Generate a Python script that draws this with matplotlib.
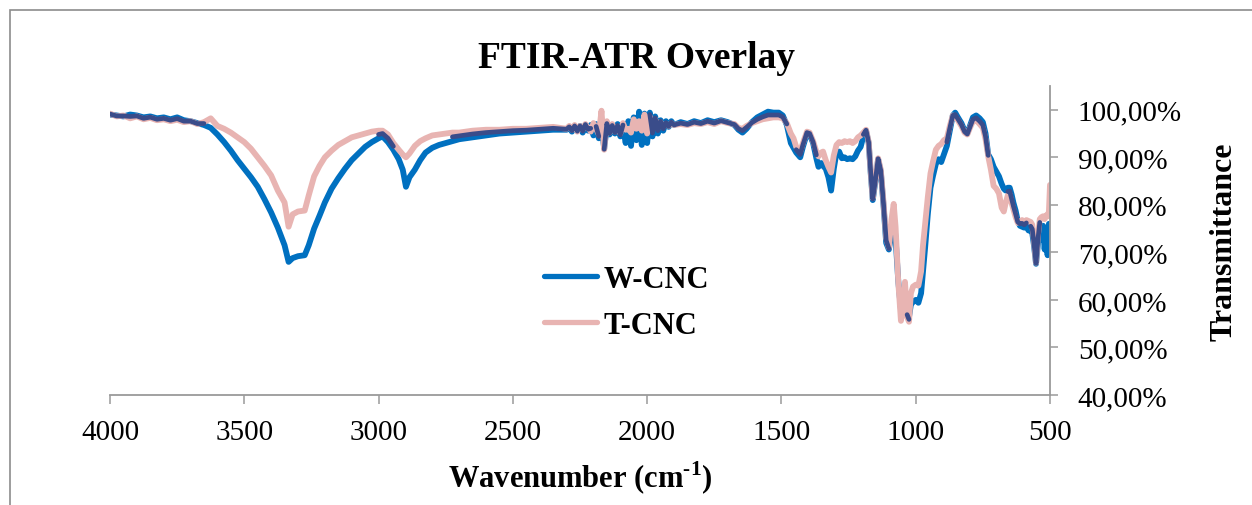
"""FTIR-ATR overlay of W-CNC and T-CNC spectra (transmittance vs wavenumber)."""

import numpy as np
import matplotlib
matplotlib.use("Agg")
import matplotlib.pyplot as plt
from matplotlib.patches import Rectangle
from matplotlib.ticker import FuncFormatter

# values (shared wavenumber grid)
wavenumber = [
    4000, 3975, 3950, 3925, 3900, 3875, 3850, 3825, 3800, 3775, 3750, 3725,
    3700, 3675, 3650, 3625, 3600, 3575, 3550, 3525, 3500, 3475, 3450, 3425,
    3400, 3375, 3350, 3335, 3320, 3300, 3275, 3260, 3240, 3220, 3200, 3175,
    3150, 3125, 3100, 3075, 3050, 3025, 3000, 2985, 2965, 2945, 2925, 2910,
    2898, 2885, 2865, 2845, 2825, 2800, 2775, 2750, 2725, 2700, 2650, 2600,
    2550, 2500, 2450, 2400, 2350,
    2300, 2290, 2280, 2270, 2260, 2250, 2240, 2230, 2220, 2210, 2200, 2190,
    2180, 2170, 2160, 2150, 2140, 2130, 2120, 2110, 2100, 2090, 2080, 2070,
    2060, 2050, 2040, 2030, 2020, 2010, 2000, 1990, 1980, 1970, 1960, 1950,
    1940, 1930, 1920, 1910, 1900,
    1875, 1850, 1825, 1800, 1775, 1750, 1725, 1700, 1675, 1660, 1645, 1630,
    1610, 1590, 1570, 1550, 1530, 1510, 1495, 1480, 1465, 1455, 1445, 1430,
    1420, 1405, 1395, 1382, 1370, 1362, 1352, 1345, 1335, 1325, 1315, 1305,
    1295, 1285, 1275, 1265, 1255, 1245, 1235, 1225, 1215, 1205, 1195, 1185,
    1175, 1168, 1160, 1150, 1140, 1130, 1120, 1110, 1100, 1090, 1082, 1075,
    1065, 1055, 1048, 1040, 1032, 1025, 1018, 1010, 1000, 990, 980, 973,
    965, 955, 945, 936, 925, 915, 905, 895, 884, 873, 862, 853,
    843, 830, 818, 808, 798, 787, 775, 762, 750, 740, 730, 720,
    710, 700, 690, 680, 672, 665, 657, 650, 643, 636, 628, 620,
    612, 604, 596, 588, 580, 572, 566, 560, 552, 545, 538, 532,
    526, 520, 514, 509, 504, 500,
]

w_cnc = [
    99.0, 98.8, 98.6, 99.0, 98.8, 98.4, 98.6, 98.2, 98.4, 98.0, 98.4, 97.8,
    97.6, 97.2, 96.8, 96.2, 94.8, 93.2, 91.4, 89.4, 87.6, 85.8, 83.8, 81.2,
    78.4, 75.2, 71.5, 68.0, 68.8, 69.2, 69.4, 71.5, 75.0, 77.7, 80.5, 83.4,
    85.6, 87.6, 89.4, 90.8, 92.2, 93.2, 94.0, 94.4, 93.2, 91.6, 89.6, 87.4,
    83.8, 85.8, 87.4, 89.4, 91.0, 92.0, 92.6, 93.0, 93.4, 93.8, 94.2, 94.6,
    95.0, 95.2, 95.4, 95.6, 95.8,
    95.8, 96.2, 95.4, 96.4, 95.6, 96.6, 95.2, 96.8, 95.6, 96.8, 94.6, 97.0,
    94.0, 97.2, 91.8, 96.6, 94.8, 96.4, 95.0, 97.0, 94.4, 96.4, 93.0, 97.6,
    92.4, 98.4, 93.6, 99.6, 92.6, 99.2, 93.0, 99.4, 94.4, 98.6, 95.0, 97.8,
    95.6, 97.6, 96.4, 97.6, 96.8,
    97.4, 97.0, 97.6, 97.2, 97.8, 97.4, 97.8, 97.4, 96.8, 95.8, 95.2, 96.0,
    97.4, 98.4, 99.0, 99.6, 99.4, 99.4, 98.8, 96.8, 93.0, 92.0, 91.0, 90.0,
    92.2, 95.0, 94.8, 93.0, 89.8, 88.0, 88.8, 88.2, 87.6, 85.8, 83.0, 87.6,
    91.0, 91.2, 89.8, 90.0, 89.6, 89.8, 89.6, 90.2, 91.4, 92.2, 94.4, 95.6,
    93.0, 87.0, 81.0, 85.0, 89.6, 87.0, 80.0, 72.0, 70.6, 74.0, 77.0, 73.0,
    64.0, 58.0, 58.6, 60.8, 57.4, 56.4, 59.0, 59.6, 60.0, 59.4, 61.4, 65.9,
    71.0, 78.0, 83.6, 86.0, 88.6, 89.6, 89.0, 90.6, 92.4, 95.6, 98.8, 99.4,
    98.4, 97.2, 95.6, 95.0, 96.6, 98.4, 98.8, 98.2, 97.4, 95.0, 90.6, 89.6,
    88.0, 87.0, 86.0, 84.4, 83.4, 83.0, 83.6, 83.6, 82.2, 80.4, 78.8, 76.6,
    75.6, 75.4, 75.2, 75.6, 74.6, 74.6, 74.0, 71.6, 67.6, 71.8, 75.6, 72.6,
    75.6, 70.6, 75.2, 69.4, 76.0, 74.8,
]

t_cnc = [
    99.2, 98.6, 98.8, 98.2, 98.6, 98.0, 98.3, 97.8, 98.0, 97.6, 97.9, 97.4,
    97.6, 97.0, 97.4, 98.2, 96.6, 96.0, 95.2, 94.2, 93.2, 91.8, 90.0, 88.2,
    86.2, 83.0, 80.5, 75.4, 78.0, 78.6, 78.8, 82.0, 86.0, 88.2, 90.0, 91.4,
    92.6, 93.4, 94.2, 94.6, 95.0, 95.4, 95.6, 95.6, 94.8, 93.0, 91.6, 90.6,
    90.0, 90.8, 92.4, 93.4, 94.0, 94.6, 94.8, 95.0, 95.2, 95.2, 95.6, 95.8,
    95.8, 96.0, 96.0, 96.2, 96.4,
    96.0, 96.6, 95.8, 96.8, 95.4, 96.6, 95.8, 97.0, 96.2, 95.4, 97.2, 96.0,
    94.8, 99.8, 91.6, 97.6, 95.2, 97.0, 95.4, 96.4, 95.0, 97.2, 95.8, 96.0,
    95.2, 98.0, 96.0, 97.6, 95.6, 99.0, 95.0, 98.6, 95.8, 98.0, 96.2, 97.4,
    96.4, 97.0, 96.6, 97.2, 96.8,
    97.0, 96.8, 97.2, 97.0, 97.4, 97.0, 97.6, 97.2, 97.0, 96.2, 96.0, 96.6,
    97.2, 97.6, 98.0, 98.2, 98.4, 98.4, 98.2, 97.2, 95.0, 94.0, 92.2, 91.2,
    93.0, 95.4, 95.2, 93.4, 91.2, 90.2, 91.0, 91.2, 89.4, 88.0, 86.8, 90.4,
    92.6, 93.2, 93.0, 93.4, 93.2, 93.4, 93.0, 93.4, 94.2, 94.6, 95.2, 95.8,
    93.2, 87.4, 81.4, 85.4, 89.8, 87.4, 80.6, 73.0, 71.0, 77.0, 80.2, 75.4,
    63.8, 55.6, 58.0, 63.8, 56.4, 55.4, 61.4, 62.8, 63.2, 63.0, 66.0, 71.4,
    76.0, 81.6, 86.6, 89.0, 91.6, 92.4, 92.8, 93.6, 94.0, 96.6, 98.8, 98.6,
    97.8, 96.6, 95.2, 94.8, 96.2, 97.6, 97.8, 97.0, 96.2, 93.8, 90.2, 87.4,
    84.0, 83.4, 82.4, 79.4, 78.6, 80.4, 82.0, 82.2, 80.4, 79.0, 77.4, 76.2,
    76.4, 76.8, 76.4, 76.8, 76.6, 76.4, 75.8, 72.6, 67.8, 73.6, 77.0, 77.4,
    77.6, 77.0, 77.8, 77.6, 78.6, 84.2,
]

series_names = ["W-CNC", "T-CNC"]
y_ticks = [40, 50, 60, 70, 80, 90, 100]
x_ticks = [4000, 3500, 3000, 2500, 2000, 1500, 1000, 500]

BLUE = "#0070C0"
PINK = "#E8B4B2"
NAVY = "#3A4C8A"
AXIS_GRAY = "#9A9A9A"

plt.rcParams["font.family"] = ["Liberation Serif", "DejaVu Serif"]
plt.rcParams["mathtext.fontset"] = "custom"
plt.rcParams["mathtext.rm"] = "Liberation Serif"
plt.rcParams["mathtext.bf"] = "Liberation Serif:bold"

wn = np.array(wavenumber, dtype=float)
w = np.array(w_cnc, dtype=float)
t = np.array(t_cnc, dtype=float)
# where the two traces sit on top of each other the overlay looks dark navy
overlap = np.where(np.abs(w - t) < 2.0, (w + t) / 2, np.nan)

fig = plt.figure(figsize=(12.52, 5.06), dpi=100)
ax = fig.add_axes([110 / 1252, 1 - 396 / 506, 940 / 1252, (396 - 87) / 506])

line_kw = dict(solid_joinstyle="round", solid_capstyle="round")
ax.plot(wn, w, color=BLUE, linewidth=4.2, label=series_names[0], **line_kw)
ax.plot(wn, t, color=PINK, linewidth=4.2, label=series_names[1], **line_kw)
ax.plot(wn, overlap, color=NAVY, linewidth=3.4, **line_kw)

ax.set_xlim(4000, 500)
ax.set_ylim(40, 105)
ax.set_xticks(x_ticks)
ax.set_yticks(y_ticks)
ax.yaxis.set_major_formatter(FuncFormatter(lambda v, _: f"{v:.2f}%".replace(".", ",")))
ax.yaxis.tick_right()
ax.yaxis.set_label_position("right")

for side in ("left", "top"):
    ax.spines[side].set_visible(False)
for side in ("right", "bottom"):
    ax.spines[side].set_color(AXIS_GRAY)
    ax.spines[side].set_linewidth(1.3)

ax.tick_params(axis="x", direction="out", length=6.5, width=1.1, color=AXIS_GRAY,
               labelsize=21, pad=11)
ax.tick_params(axis="y", direction="out", length=6.0, width=1.1, color=AXIS_GRAY,
               labelsize=21, pad=14)

ax.set_xlabel("Wavenumber (cm$^{\\mathbf{\\text{-}1}}$)", fontsize=22,
              fontweight="bold", labelpad=10)
ax.set_ylabel("Transmittance", fontsize=23, fontweight="bold", labelpad=20)

fig.text(0.508, 0.885, "FTIR-ATR Overlay", ha="center", va="center",
         fontsize=27, fontweight="bold")

leg = ax.legend(loc="upper left", bbox_to_anchor=(0.445, 0.47), frameon=False,
                prop={"size": 22, "weight": "bold"}, handlelength=1.75,
                handletextpad=0.2, labelspacing=0.55, borderpad=0.0)
for line in leg.get_lines():
    line.set_linewidth(3.8)

fig.add_artist(Rectangle((10 / 1252, -0.05), 1.1, 1 - 11 / 506 + 0.05,
                         transform=fig.transFigure, fill=False,
                         edgecolor="#8C8C8C", linewidth=1.2))

fig.savefig("out.png", dpi=100)
